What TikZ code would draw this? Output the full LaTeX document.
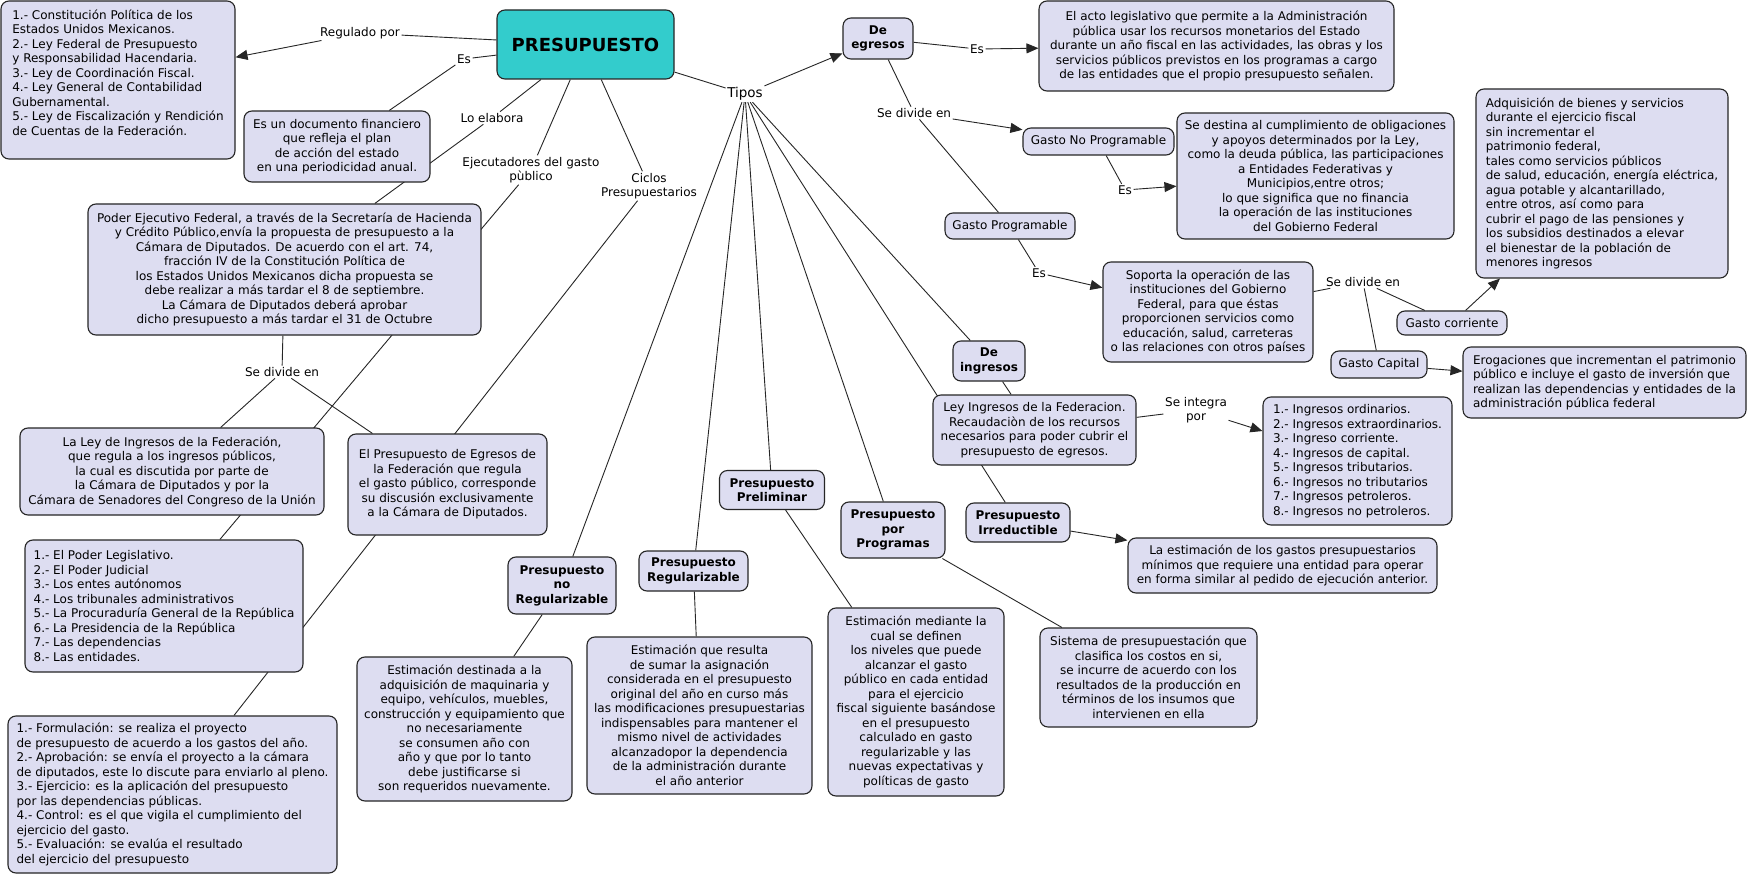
\documentclass[tikz,border=0pt]{standalone}
\usepackage{fontspec}
\setmainfont{DejaVu Sans}
\usetikzlibrary{arrows.meta}
\definecolor{boxfill}{RGB}{221,221,241}
\definecolor{tealfill}{RGB}{51,204,204}
\pgfdeclarelayer{back}
\pgfdeclarelayer{bg}
\pgfsetlayers{back,bg,main}
\begin{document}
\begin{tikzpicture}[x=1pt,y=-1pt,
  box/.style={draw=black!85, rounded corners=8pt, fill=boxfill, line width=1.1pt, align=center, inner sep=2pt, font=\fontsize{12}{14.5}\selectfont},
  bbox/.style={box, font=\fontsize{12}{14.5}\selectfont\bfseries},
  lbl/.style={inner sep=1.5pt, align=center, font=\fontsize{12}{14.5}\selectfont},
  conn/.style={line width=0.9pt, draw=black!85},
  arr/.style={conn, -{Triangle[length=12pt,width=10pt]}},
]
\begin{pgfonlayer}{back}
\fill[white] (0,0) rectangle (1748,877);
\end{pgfonlayer}
\useasboundingbox (0,0) rectangle (1748,877);

% main
\node[box, fill=tealfill, minimum width=177pt, minimum height=69pt, font=\fontsize{18}{20}\selectfont\bfseries] (pres) at (585.5,44.5) {PRESUPUESTO};

% labels
\node[lbl] (regulado) at (360,33) {Regulado por};
\node[lbl] (esL) at (464,59) {Es};
\node[lbl] (loelab) at (492,118) {Lo elabora};
\node[lbl] (ejecL) at (531,170) {Ejecutadores del gasto\\pùblico};
\node[lbl] (ciclosL) at (649,186) {Ciclos\\Presupuestarios};
\node[lbl, font=\fontsize{13.5}{15}\selectfont] (tipos) at (745,94) {Tipos};
\node[lbl] (sedivL) at (282,372) {Se divide en};
\node[lbl] (es2) at (977,49) {Es};
\node[lbl] (sedivR) at (914,113) {Se divide en};
\node[lbl] (es3) at (1125,190) {Es};
\node[lbl] (es4) at (1039,273) {Es};
\node[lbl] (sedivR2) at (1363,282) {Se divide en};
\node[lbl] (seint) at (1196,410) {Se integra\\por};

% left side boxes
\node[box, align=left, minimum width=234pt, minimum height=158pt] (laws) at (118,80) {1.- Constitución Política de los\\Estados Unidos Mexicanos.\\2.- Ley Federal de Presupuesto\\y Responsabilidad Hacendaria.\\3.- Ley de Coordinación Fiscal.\\4.- Ley General de Contabilidad\\Gubernamental.\\5.- Ley de Fiscalización y Rendición\\de Cuentas de la Federación.\\[1pt]\mbox{}};

\node[box, minimum width=186pt, minimum height=71pt] (esun) at (337,146.5) {Es un documento financiero\\que refleja el plan\\de acción del estado\\en una periodicidad anual.};

\node[box, minimum width=393pt, minimum height=131pt] (poder) at (284.5,269.5) {Poder Ejecutivo Federal, a través de la Secretaría de Hacienda\\y Crédito Público,envía la propuesta de presupuesto a la\\Cámara de Diputados. De acuerdo con el art. 74,\\fracción IV de la Constitución Política de\\los Estados Unidos Mexicanos dicha propuesta se\\debe realizar a más tardar el 8 de septiembre.\\La Cámara de Diputados deberá aprobar\\dicho presupuesto a más tardar el 31 de Octubre};

\node[box, minimum width=304pt, minimum height=87pt] (laley) at (172,471.5) {La Ley de Ingresos de la Federación,\\que regula a los ingresos públicos,\\la cual es discutida por parte de\\la Cámara de Diputados y por la\\Cámara de Senadores del Congreso de la Unión};

\node[box, minimum width=199pt, minimum height=101pt] (elpres) at (447.5,484.5) {El Presupuesto de Egresos de\\la Federación que regula\\el gasto público, corresponde\\su discusión exclusivamente\\a la Cámara de Diputados.};

\node[box, align=left, minimum width=278pt, minimum height=132pt] (ejec) at (164,606) {1.- El Poder Legislativo.\\2.- El Poder Judicial\\3.- Los entes autónomos\\4.- Los tribunales administrativos\\5.- La Procuraduría General de la República\\6.- La Presidencia de la República\\7.- Las dependencias\\8.- Las entidades.};

\node[box, align=left, minimum width=329pt, minimum height=157pt] (ciclos) at (172.5,794.5) {1.- Formulación: se realiza el proyecto\\de presupuesto de acuerdo a los gastos del año.\\2.- Aprobación: se envía el proyecto a la cámara\\de diputados, este lo discute para enviarlo al pleno.\\3.- Ejercicio: es la aplicación del presupuesto\\por las dependencias públicas.\\4.- Control: es el que vigila el cumplimiento del\\ejercicio del gasto.\\5.- Evaluación: se evalúa el resultado\\del ejercicio del presupuesto};

% types
\node[bbox, minimum width=108pt, minimum height=57pt] (noreg) at (562,585.5) {Presupuesto\\no\\Regularizable};
\node[box, minimum width=215pt, minimum height=144pt] (estdest) at (464.5,729) {Estimación destinada a la\\adquisición de maquinaria y\\equipo, vehículos, muebles,\\construcción y equipamiento que\\no necesariamente\\se consumen año con\\año y que por lo tanto\\debe justificarse si\\son requeridos nuevamente.};

\node[bbox, minimum width=109pt, minimum height=40pt] (reg) at (693.5,571) {Presupuesto\\Regularizable};
\node[box, minimum width=225pt, minimum height=157pt] (estres) at (699.5,715.5) {Estimación que resulta\\de sumar la asignación\\considerada en el presupuesto\\original del año en curso más\\las modificaciones presupuestarias\\indispensables para mantener el\\mismo nivel de actividades\\alcanzadopor la dependencia\\de la administración durante\\el año anterior};

\node[bbox, minimum width=105pt, minimum height=39pt] (prelim) at (772,490) {Presupuesto\\Preliminar};
\node[box, minimum width=176pt, minimum height=188pt] (estmed) at (916,702) {Estimación mediante la\\cual se definen\\los niveles que puede\\alcanzar el gasto\\público en cada entidad\\para el ejercicio\\fiscal siguiente basándose\\en el presupuesto\\calculado en gasto\\regularizable y las\\nuevas expectativas y\\políticas de gasto};

\node[bbox, minimum width=104pt, minimum height=56pt] (prog) at (893,530) {Presupuesto\\por\\Programas};
\node[box, minimum width=217pt, minimum height=99pt] (sistema) at (1148.5,677.5) {Sistema de presupuestación que\\clasifica los costos en si,\\se incurre de acuerdo con los\\resultados de la producción en\\términos de los insumos que\\intervienen en ella};

\node[bbox, minimum width=104pt, minimum height=39pt] (irred) at (1018,522.5) {Presupuesto\\Irreductible};
\node[box, minimum width=309pt, minimum height=55pt] (laest) at (1282.5,565.5) {La estimación de los gastos presupuestarios\\mínimos que requiere una entidad para operar\\en forma similar al pedido de ejecución anterior.};

\node[bbox, minimum width=72pt, minimum height=40pt] (deing) at (989,361) {De\\ingresos};
\node[box, minimum width=203pt, minimum height=70pt] (ley) at (1034.5,430) {Ley Ingresos de la Federacion.\\Recaudaciòn de los recursos\\necesarios para poder cubrir el\\presupuesto de egresos.};
\node[box, align=left, minimum width=189pt, minimum height=128pt] (inglist) at (1357.5,461) {1.- Ingresos ordinarios.\\2.- Ingresos extraordinarios.\\3.- Ingreso corriente.\\4.- Ingresos de capital.\\5.- Ingresos tributarios.\\6.- Ingresos no tributarios\\7.- Ingresos petroleros.\\8.- Ingresos no petroleros.};

\node[bbox, minimum width=70pt, minimum height=41pt] (deegr) at (878,38.5) {De\\egresos};
\node[box, minimum width=355pt, minimum height=90pt] (acto) at (1216.5,46) {El acto legislativo que permite a la Administración\\pública usar los recursos monetarios del Estado\\durante un año fiscal en las actividades, las obras y los\\servicios públicos previstos en los programas a cargo\\de las entidades que el propio presupuesto señalen.};

\node[box, minimum width=151pt, minimum height=27pt] (gnp) at (1098.5,141.5) {Gasto No Programable};
\node[box, minimum width=130pt, minimum height=26pt] (gp) at (1010,226) {Gasto Programable};
\node[box, minimum width=277pt, minimum height=126pt] (sedest) at (1315.5,176) {Se destina al cumplimiento de obligaciones\\y apoyos determinados por la Ley,\\como la deuda pública, las participaciones\\a Entidades Federativas y\\Municipios,entre otros;\\lo que significa que no financia\\la operación de las instituciones\\del Gobierno Federal};
\node[box, minimum width=210pt, minimum height=100pt] (soporta) at (1208,312) {Soporta la operación de las\\instituciones del Gobierno\\Federal, para que éstas\\proporcionen servicios como\\educación, salud, carreteras\\o las relaciones con otros países};
\node[box, minimum width=110pt, minimum height=24pt] (gcorr) at (1452,323) {Gasto corriente};
\node[box, minimum width=96pt, minimum height=27pt] (gcap) at (1379,364.5) {Gasto Capital};
\node[box, align=left, minimum width=252pt, minimum height=189pt] (adq) at (1602,183.5) {Adquisición de bienes y servicios\\durante el ejercicio fiscal\\sin incrementar el\\patrimonio federal,\\tales como servicios públicos\\de salud, educación, energía eléctrica,\\agua potable y alcantarillado,\\entre otros, así como para\\cubrir el pago de las pensiones y\\los subsidios destinados a elevar\\el bienestar de la población de\\menores ingresos};
\node[box, align=left, minimum width=283pt, minimum height=71pt] (erog) at (1604.5,382.5) {Erogaciones que incrementan el patrimonio\\público e incluye el gasto de inversión que\\realizan las dependencias y entidades de la\\administración pública federal};

\begin{pgfonlayer}{bg}
\draw[conn] (pres) -- (regulado);
\draw[arr] (regulado) -- (laws);
\draw[conn] (pres) -- (esL);
\draw[conn] (esL) -- (esun);
\draw[conn] (pres) -- (loelab);
\draw[conn] (loelab) -- (poder);
\draw[conn] (pres) -- (ejecL);
\draw[conn] (ejecL) -- (ejec);
\draw[conn] (pres) -- (ciclosL);
\draw[conn] (ciclosL) -- (ciclos);
\draw[conn] (pres) -- (tipos);
\draw[conn] (poder) -- (sedivL);
\draw[conn] (sedivL) -- (laley);
\draw[conn] (sedivL) -- (elpres);
\draw[arr] (tipos) -- (deegr);
\draw[conn] (tipos) -- (noreg);
\draw[conn] (tipos) -- (reg);
\draw[conn] (tipos) -- (prelim);
\draw[conn] (tipos) -- (prog);
\draw[conn] (tipos) -- (irred);
\draw[conn] (tipos) -- (deing);
\draw[conn] (noreg) -- (estdest);
\draw[conn] (reg) -- (estres);
\draw[conn] (prelim) -- (estmed);
\draw[conn] (prog) -- (sistema);
\draw[arr] (irred) -- (laest);
\draw[conn] (deing) -- (ley);
\draw[conn] (ley) -- (seint);
\draw[arr] (seint) -- (inglist);
\draw[conn] (deegr) -- (es2);
\draw[arr] (es2) -- (acto);
\draw[conn] (deegr) -- (sedivR);
\draw[arr] (sedivR) -- (gnp);
\draw[conn] (sedivR) -- (gp);
\draw[conn] (gnp) -- (es3);
\draw[arr] (es3) -- (sedest);
\draw[conn] (gp) -- (es4);
\draw[arr] (es4) -- (soporta);
\draw[conn] (soporta) -- (sedivR2);
\draw[conn] (sedivR2) -- (gcorr);
\draw[conn] (sedivR2) -- (gcap);
\draw[arr] (gcorr) -- (adq);
\draw[arr] (gcap) -- (erog);
\end{pgfonlayer}
\end{tikzpicture}
\end{document}
